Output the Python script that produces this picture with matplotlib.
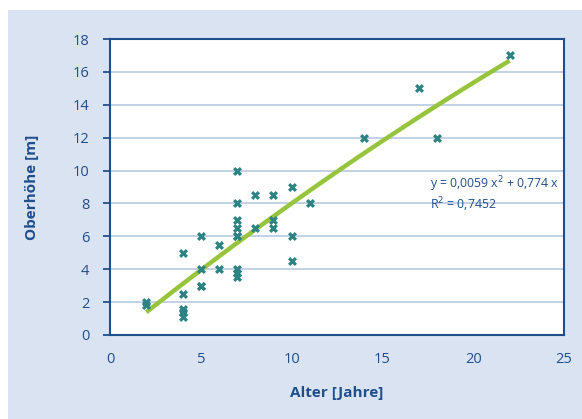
import numpy as np
import matplotlib
matplotlib.use("Agg")
import matplotlib.pyplot as plt
from matplotlib.patches import Rectangle

# tree age [years] and top height [m]
alter = [2, 2, 4, 4, 4, 4, 4, 5, 5, 5, 5, 6, 6,
         7, 7, 7, 7, 7, 7, 7, 7, 7,
         8, 8, 9, 9, 9, 10, 10, 10, 11,
         14, 17, 18, 22]
hoehe = [2, 1.8, 5, 2.5, 1.6, 1.4, 1.1, 6, 4, 3, 3, 5.5, 4,
         10, 8, 7, 6.5, 6, 4, 3.8, 3.5, 6,
         8.5, 6.5, 8.5, 7, 6.5, 9, 6, 4.5, 8,
         12, 15, 12, 17]

x_ticks = [0, 5, 10, 15, 20, 25]
y_ticks = [0, 2, 4, 6, 8, 10, 12, 14, 16, 18]
eq_text = "y = 0,0059 x$^2$ + 0,774 x\nR$^2$ = 0,7452"

navy = "#1f4e8c"
panel = "#dae3f1"
grid_col = "#b9c9e2"
marker_col = "#2b8383"
trend_col = "#96c43c"

plt.rcParams['font.family'] = ['Open Sans', 'DejaVu Sans']

fig = plt.figure(figsize=(5.82, 4.19), dpi=100)
fig.patch.set_facecolor("white")
fig.patches.append(Rectangle((8 / 582, 0), 1, 1 - 10 / 419,
                             transform=fig.transFigure, facecolor=panel,
                             edgecolor="none", zorder=-10))

ax = fig.add_axes([110 / 582, 1 - 335 / 419, 454 / 582, 296 / 419])
ax.set_facecolor("white")

# trend line: quadratic fit of the data
coef = np.polyfit(alter, hoehe, 2)
xs = np.linspace(min(alter), max(alter), 100)
ax.plot(xs, np.polyval(coef, xs), color=trend_col, lw=3.2, zorder=2,
        solid_capstyle="butt")

ax.scatter(alter, hoehe, marker="X", s=42, color=marker_col,
           linewidths=0, zorder=3)

ax.set_xlim(0, 25)
ax.set_ylim(0, 18)
ax.set_xticks(x_ticks)
ax.set_yticks(y_ticks)
ax.yaxis.grid(True, color=grid_col, lw=1.2)
ax.set_axisbelow(True)

for sp in ax.spines.values():
    sp.set_color(navy)
    sp.set_linewidth(1.5)

ax.tick_params(axis="y", colors=navy, labelsize=10.5, length=5, width=1.3,
               direction="out", pad=10)
ax.tick_params(axis="x", colors=navy, labelsize=10.5, length=0, pad=12)

ax.set_xlabel("Alter [Jahre]", color=navy, fontsize=11, fontweight="bold",
              labelpad=14)
ax.set_ylabel("Oberhöhe [m]", color=navy, fontsize=11, fontweight="bold",
              labelpad=24)

ax.text(17.6, 9.75, eq_text, color=navy, fontsize=8.8, va="top", ha="left",
        linespacing=1.1)

fig.savefig("out.png", dpi=100, facecolor=fig.get_facecolor())
